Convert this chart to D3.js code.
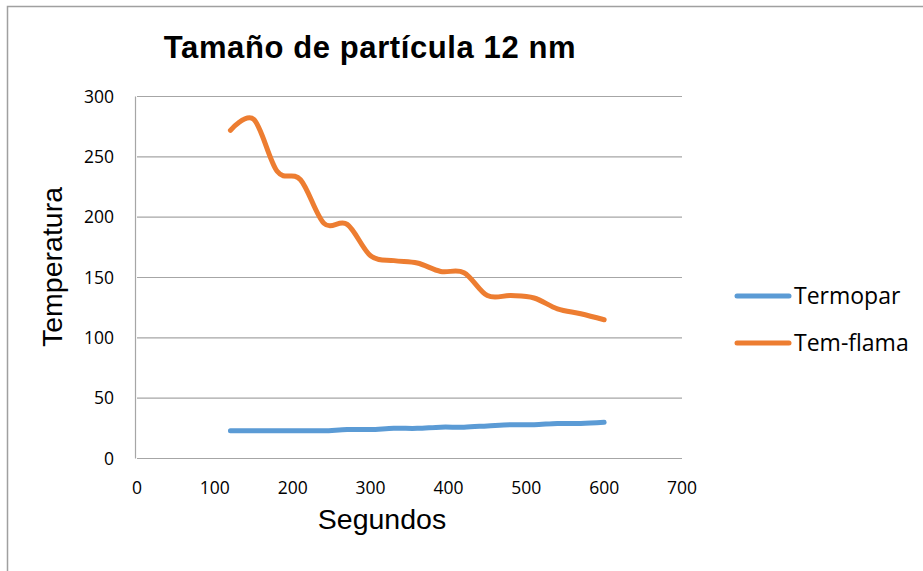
<!DOCTYPE html>
<meta charset="utf-8">
<style type="text/css">
   body { margin: 0; background: #fff; }
   .grid line { stroke: #a6a6a6; stroke-width: 1.2; }
   .tick-label { font-family: "Open Sans", sans-serif; font-size: 17.5px; fill: #000; }
   .legend-label { font-family: "Open Sans", sans-serif; font-size: 23px; fill: #000; }
   .axis-title { font-family: "Liberation Sans", Arial, sans-serif; font-size: 28.5px; fill: #000; }
   .chart-title { font-family: "Liberation Sans", Arial, sans-serif; font-size: 31px; font-weight: bold; fill: #000; letter-spacing: 0.6px; }
   .line { fill: none; stroke-width: 5; stroke-linecap: round; stroke-linejoin: round; }
</style>
<body></body>
<script src="https://d3js.org/d3.v7.min.js"></script>
<script>
// seconds
var seconds = [120, 150, 180, 210, 240, 270, 300, 330, 360, 390, 420, 450, 480, 510, 540, 570, 600];
// series values
var termopar = [23, 23, 23, 23, 23, 24, 24, 25, 25, 26, 26, 27, 28, 28, 29, 29, 30];
var temFlama = [272, 281, 238, 231, 195, 194, 168, 164, 162, 155, 154, 135, 135, 133, 124, 120, 115];
var seriesNames = ['Termopar', 'Tem-flama'];
var colors = ['#5b9bd5', '#ed7d31'];
var xTicks = [0, 100, 200, 300, 400, 500, 600, 700];
var yTicks = [0, 50, 100, 150, 200, 250, 300];

var width = 923, height = 571;
var plot = { left: 137, right: 682, top: 96.5, bottom: 458.5 };

var svg = d3.select('body')
    .append('svg')
    .attr('width', width)
    .attr('height', height);

// outer chart frame
svg.append('rect')
    .attr('x', 7.5).attr('y', 6.5)
    .attr('width', 940).attr('height', 600)
    .attr('fill', 'none')
    .attr('stroke', '#a0a0a0')
    .attr('stroke-width', 1.5);

var xScale = d3.scaleLinear().domain([0, 700]).range([plot.left, plot.right]);
var yScale = d3.scaleLinear().domain([0, 300]).range([plot.bottom, plot.top]);

// horizontal gridlines
var grid = svg.append('g').attr('class', 'grid');
grid.selectAll('line')
    .data(yTicks)
    .enter()
    .append('line')
    .attr('x1', plot.left)
    .attr('x2', plot.right)
    .attr('y1', d => yScale(d))
    .attr('y2', d => yScale(d));

// y axis line
grid.append('line')
    .attr('x1', plot.left - 1.5).attr('x2', plot.left - 1.5)
    .attr('y1', plot.top).attr('y2', plot.bottom);

// y tick labels
svg.append('g').selectAll('text')
    .data(yTicks)
    .enter()
    .append('text')
    .attr('class', 'tick-label')
    .attr('x', 114)
    .attr('y', d => yScale(d))
    .attr('dy', '0.36em')
    .attr('text-anchor', 'end')
    .text(d => d);

// x tick labels
svg.append('g').selectAll('text')
    .data(xTicks)
    .enter()
    .append('text')
    .attr('class', 'tick-label')
    .attr('x', d => xScale(d))
    .attr('y', 494)
    .attr('text-anchor', 'middle')
    .text(d => d);

// series lines, smoothed like the spreadsheet
var line = d3.line()
    .x(d => xScale(d[0]))
    .y(d => yScale(d[1]))
    .curve(d3.curveCardinal.tension(0));

[termopar, temFlama].forEach(function(vals, i) {
    svg.append('path')
        .datum(seconds.map((s, j) => [s, vals[j]]))
        .attr('class', 'line')
        .attr('stroke', colors[i])
        .attr('d', line);
});

// titles
svg.append('text')
    .attr('class', 'chart-title')
    .attr('x', 370)
    .attr('y', 58)
    .attr('text-anchor', 'middle')
    .text('Tamaño de partícula 12 nm');

svg.append('text')
    .attr('class', 'axis-title')
    .attr('x', 382)
    .attr('y', 529)
    .attr('text-anchor', 'middle')
    .text('Segundos');

svg.append('text')
    .attr('class', 'axis-title')
    .attr('transform', 'translate(62,267) rotate(-90)')
    .attr('text-anchor', 'middle')
    .text('Temperatura');

// legend
var legend = svg.append('g');
var legendY = [296, 343];
seriesNames.forEach(function(name, i) {
    legend.append('line')
        .attr('class', 'line')
        .attr('x1', 737).attr('x2', 789)
        .attr('y1', legendY[i]).attr('y2', legendY[i])
        .attr('stroke', colors[i]);
    legend.append('text')
        .attr('class', 'legend-label')
        .attr('x', 794)
        .attr('y', legendY[i])
        .attr('dy', '0.35em')
        .text(name);
});
</script>
